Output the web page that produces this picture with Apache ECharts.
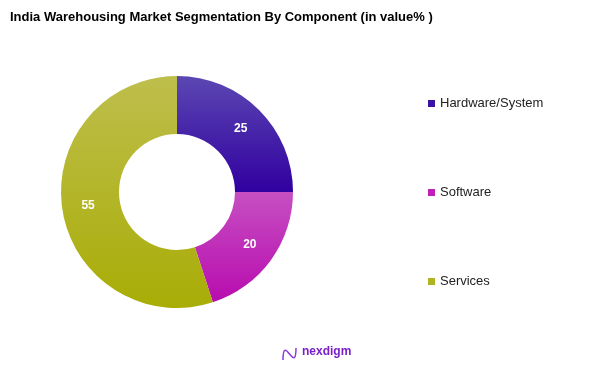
<!DOCTYPE html>
<html><head><meta charset="utf-8">
<script src="https://cdn.jsdelivr.net/npm/echarts@6/dist/echarts.min.js"></script>
<style>html,body{margin:0;padding:0;background:#fff}#c{width:602px;height:369px}</style>
</head><body><div id="c"></div>
<script>
const categories = ['Hardware/System', 'Software', 'Services'];
const values = [25, 20, 55];
const titleText = 'India Warehousing Market Segmentation By Component (in value% )';
const colorTop = ['#5b47b2', '#c64fc2', '#bebe4c'];
const colorBottom = ['#3100a0', '#b80cae', '#a8ad06'];
const legendColors = ['#3a12a4', '#c020b8', '#b0b420'];

const chart = echarts.init(document.getElementById('c'), null, {renderer: 'canvas'});
chart.setOption({
  animation: false,
  title: {
    text: titleText, left: 10, top: 11, padding: 0,
    textStyle: {fontFamily: 'Liberation Sans', fontSize: 13, fontWeight: 'bold', color: '#000'}
  },
  legend: {
    orient: 'vertical', left: 428, top: 97, itemGap: 76, padding: 0,
    itemWidth: 7, itemHeight: 7, icon: 'rect',
    data: categories.map((c, i) => ({name: c, itemStyle: {color: legendColors[i]}})),
    textStyle: {fontFamily: 'Liberation Sans', fontSize: 13, color: '#222'}
  },
  graphic: [
    {type: 'text', left: 302, top: 346, style: {text: 'nexdigm', fill: '#7a1fc8', font: 'bold 12px "Liberation Sans"'}},
    {type: 'bezierCurve', shape: {x1: 283, y1: 360, x2: 296, y2: 348, cpx1: 283, cpy1: 332, cpx2: 296, cpy2: 376}, style: {stroke: '#8a3ad8', lineWidth: 1.5, fill: null}}
  ],
  series: [{
    type: 'pie', center: [177, 192], radius: [58, 116], startAngle: 90, clockwise: true,
    label: {show: true, position: 'inside', formatter: '{c}', color: '#fff', fontFamily: 'Liberation Sans', fontSize: 12, fontWeight: 'bold'},
    labelLine: {show: false},
    emphasis: {disabled: true},
    data: categories.map((c, i) => ({
      name: c, value: values[i],
      itemStyle: {color: new echarts.graphic.LinearGradient(0, 0, 0, 1, [{offset: 0, color: colorTop[i]}, {offset: 1, color: colorBottom[i]}])}
    }))
  }]
});
</script></body></html>
